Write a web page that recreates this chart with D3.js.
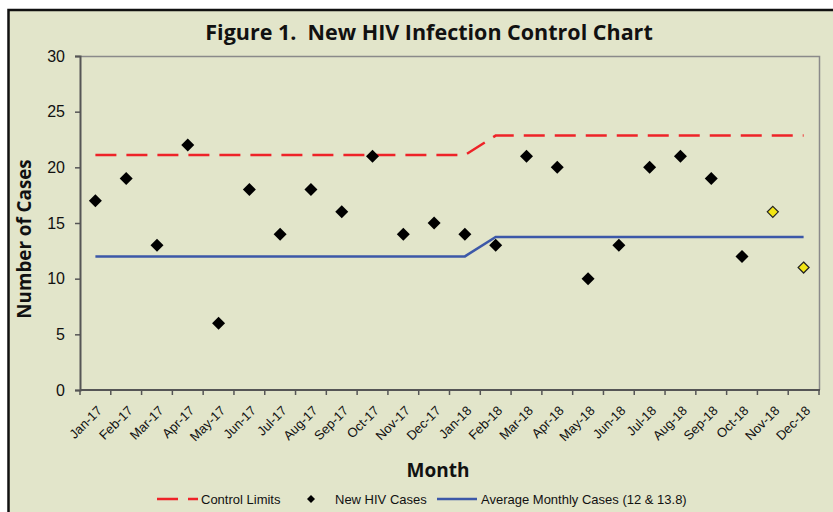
<!DOCTYPE html>
<html>
<head>
<meta charset="utf-8">
<script src="https://cdn.jsdelivr.net/npm/d3@7"></script>
<style>
  body { margin: 0; background: #fff; }
  svg { display: block; }
</style>
</head>
<body>
<div id="chart"></div>
<script>
// Chart data
const months = ["Jan-17", "Feb-17", "Mar-17", "Apr-17", "May-17", "Jun-17", "Jul-17", "Aug-17",
    "Sep-17", "Oct-17", "Nov-17", "Dec-17", "Jan-18", "Feb-18", "Mar-18", "Apr-18", "May-18",
    "Jun-18", "Jul-18", "Aug-18", "Sep-18", "Oct-18", "Nov-18", "Dec-18"];
const cases = [17, 19, 13, 22, 6, 18, 14, 18, 16, 21, 14, 15, 14, 13, 21, 20, 10, 13, 20, 21, 19, 12, 16, 11];
// last two months are highlighted in yellow
const highlighted = ["Nov-18", "Dec-18"];
const controlLimits = [21.1, 21.1, 21.1, 21.1, 21.1, 21.1, 21.1, 21.1, 21.1, 21.1, 21.1, 21.1, 21.1,
    22.85, 22.85, 22.85, 22.85, 22.85, 22.85, 22.85, 22.85, 22.85, 22.85, 22.85];
const averages = [12, 12, 12, 12, 12, 12, 12, 12, 12, 12, 12, 12, 12,
    13.75, 13.75, 13.75, 13.75, 13.75, 13.75, 13.75, 13.75, 13.75, 13.75, 13.75];
const yTicks = [0, 5, 10, 15, 20, 25, 30];

const W = 833, H = 512;
const margin = { top: 56, right: 14, bottom: 122, left: 80 };
const width = W - margin.left - margin.right;
const height = H - margin.top - margin.bottom;

const svg = d3.select("#chart").append("svg")
    .attr("width", W)
    .attr("height", H);

// Outer frame (runs off the right and bottom edge)
svg.append("rect")
    .attr("x", 8.5).attr("y", 10)
    .attr("width", W + 20).attr("height", H + 20)
    .attr("fill", "#e2e5ca")
    .attr("stroke", "#111")
    .attr("stroke-width", 2.5);

const g = svg.append("g")
    .attr("transform", "translate(" + margin.left + "," + margin.top + ")");

const xScale = d3.scaleBand()
    .domain(months)
    .range([0, width]);

const yScale = d3.scaleLinear()
    .domain([0, 30])
    .range([height, 0]);

const cx = d => xScale(d) + xScale.bandwidth() / 2;

// plot border (top and right)
g.append("path")
    .attr("d", "M0,0.5H" + (width + 0.5) + "V" + height)
    .attr("fill", "none")
    .attr("stroke", "#8a8a8a")
    .attr("stroke-width", 1.5);

// Y axis
const yAxis = g.append("g")
    .call(d3.axisLeft(yScale).tickValues(yTicks).tickSize(5).tickPadding(10));
yAxis.select(".domain").attr("stroke", "#555").attr("stroke-width", 2);
yAxis.selectAll(".tick line").attr("stroke", "#555").attr("stroke-width", 1.5);
yAxis.selectAll("text")
    .style("font-family", "Liberation Sans, Arial, sans-serif")
    .style("font-size", "16px")
    .attr("fill", "#111");

// X axis with ticks between categories
const xAxis = g.append("g")
    .attr("transform", "translate(0," + height + ")");
xAxis.append("line")
    .attr("x1", 0).attr("x2", width + 1)
    .attr("stroke", "#555").attr("stroke-width", 2);
xAxis.selectAll(".xtick")
    .data(months.concat(["end"]))
    .enter()
    .append("line")
    .attr("class", "xtick")
    .attr("x1", (d, i) => i < months.length ? xScale(d) : width)
    .attr("x2", (d, i) => i < months.length ? xScale(d) : width)
    .attr("y1", 0).attr("y2", 5)
    .attr("stroke", "#555").attr("stroke-width", 1.5);
xAxis.selectAll(".xlabel")
    .data(months)
    .enter()
    .append("text")
    .attr("class", "xlabel")
    .attr("transform", d => "translate(" + (cx(d) + 1) + ",15) rotate(-45)")
    .attr("text-anchor", "end")
    .attr("dy", "0.7em")
    .style("font-family", "Liberation Sans, Arial, sans-serif")
    .style("font-size", "13px")
    .attr("fill", "#111")
    .text(d => d);

// Lines
const line = d3.line()
    .x(d => cx(d.m))
    .y(d => yScale(d.v));

g.append("path")
    .datum(months.map((m, i) => ({ m: m, v: averages[i] })))
    .attr("d", line)
    .attr("fill", "none")
    .attr("stroke", "#3c58a8")
    .attr("stroke-width", 2.5);

g.append("path")
    .datum(months.map((m, i) => ({ m: m, v: controlLimits[i] })))
    .attr("d", line)
    .attr("fill", "none")
    .attr("stroke", "#ee2328")
    .attr("stroke-width", 2.5)
    .attr("stroke-dasharray", "21,10");

// Diamonds
const diamond = s => "M0," + (-s) + "L" + s + ",0L0," + s + "L" + (-s) + ",0Z";
g.selectAll(".case")
    .data(months.map((m, i) => ({ m: m, v: cases[i] })))
    .enter()
    .append("path")
    .attr("class", "case")
    .attr("transform", d => "translate(" + cx(d.m) + "," + yScale(d.v) + ")")
    .attr("d", d => highlighted.includes(d.m) ? diamond(5.5) : diamond(6.5))
    .attr("fill", d => highlighted.includes(d.m) ? "#f2e614" : "#000")
    .attr("stroke", d => highlighted.includes(d.m) ? "#222" : "none")
    .attr("stroke-width", 1.2);

// Title
svg.append("text")
    .attr("x", 429).attr("y", 40)
    .attr("text-anchor", "middle")
    .style("font-family", "Open Sans, sans-serif")
    .style("font-weight", "bold")
    .style("font-size", "21.5px")
    .attr("fill", "#111")
    .attr("xml:space", "preserve")
    .text("Figure 1.  New HIV Infection Control Chart");

// Axis titles
svg.append("text")
    .attr("transform", "translate(31,239) rotate(-90)")
    .attr("text-anchor", "middle")
    .style("font-family", "Open Sans, sans-serif")
    .style("font-weight", "bold")
    .style("font-size", "18.8px")
    .attr("fill", "#111")
    .text("Number of Cases");

svg.append("text")
    .attr("x", 438).attr("y", 477)
    .attr("text-anchor", "middle")
    .style("font-family", "Open Sans, sans-serif")
    .style("font-weight", "bold")
    .style("font-size", "19px")
    .attr("fill", "#111")
    .text("Month");

// Legend
const legend = svg.append("g")
    .style("font-family", "Liberation Sans, Arial, sans-serif")
    .style("font-size", "13px")
    .attr("fill", "#111");

legend.append("line")
    .attr("x1", 157).attr("x2", 198).attr("y1", 499).attr("y2", 499)
    .attr("stroke", "#ee2328").attr("stroke-width", 2.5)
    .attr("stroke-dasharray", "21,10");
legend.append("text").attr("x", 201).attr("y", 503.5).text("Control Limits");

legend.append("path")
    .attr("transform", "translate(311,499)")
    .attr("d", diamond(4))
    .attr("fill", "#000");
legend.append("text").attr("x", 335).attr("y", 503.5).text("New HIV Cases");

legend.append("line")
    .attr("x1", 437).attr("x2", 477).attr("y1", 499).attr("y2", 499)
    .attr("stroke", "#3c58a8").attr("stroke-width", 2.5);
legend.append("text").attr("x", 481).attr("y", 503.5).text("Average Monthly Cases (12 & 13.8)");
</script>
</body>
</html>
